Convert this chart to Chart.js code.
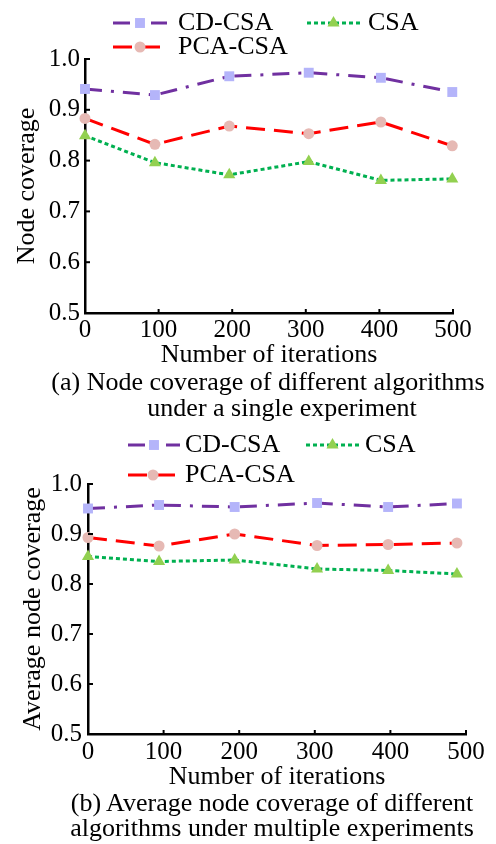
<!DOCTYPE html>
<html>
<head>
<meta charset="utf-8">
<script src="https://cdn.jsdelivr.net/npm/chart.js@4.4.0/dist/chart.umd.min.js"></script>
<style>
  body { margin: 0; background: #fff; width: 496px; height: 844px; position: relative; overflow: hidden; font-family: "Liberation Serif", serif; }
  .box { position: absolute; left: 0; width: 496px; }
  .cap { position: absolute; font-size: 26px; line-height: 26px; white-space: nowrap; transform: translateX(-50%); color: #000; }
</style>
</head>
<body>
<div class="box" style="top:0;height:368px"><canvas id="chartA"></canvas></div>
<div class="box" style="top:420px;height:370px"><canvas id="chartB"></canvas></div>
<div class="cap" style="left:268px;top:369px">(a) Node coverage of different algorithms</div>
<div class="cap" style="left:282px;top:395px">under a single experiment</div>
<div class="cap" style="left:272px;top:790px">(b) Average node coverage of different</div>
<div class="cap" style="left:272px;top:815px">algorithms under multiple experiments</div>
<script>
// values
const labels = ['CD-CSA', 'PCA-CSA', 'CSA'];
const xTicks = [0, 100, 200, 300, 400, 500];
const yTicks = [0.5, 0.6, 0.7, 0.8, 0.9, 1.0];

// (a) single experiment
const itersA = [0, 95, 196, 304, 402, 499];
const cdcsaA = [0.941, 0.929, 0.966, 0.973, 0.963, 0.935];
const pcacsaA = [0.883, 0.832, 0.868, 0.853, 0.876, 0.829];
const csaA = [0.849, 0.796, 0.772, 0.798, 0.761, 0.764];

// (b) multiple experiments
const itersB = [0, 94, 194, 303, 397, 488];
const cdcsaB = [0.951, 0.958, 0.954, 0.962, 0.954, 0.961];
const pcacsaB = [0.893, 0.876, 0.900, 0.877, 0.879, 0.882];
const csaB = [0.855, 0.845, 0.848, 0.830, 0.827, 0.820];

const FONT = '"Liberation Serif", "Times New Roman", serif';

// line + marker samples drawn next to the labels
const lineLegend = {
  id: 'lineLegend',
  afterDraw(chart, args, opts) {
    const ctx = chart.ctx;
    ctx.save();
    opts.items.forEach(it => {
      const ds = chart.data.datasets[it.ds];
      ctx.save();
      ctx.strokeStyle = ds.borderColor;
      ctx.lineWidth = ds.borderWidth;
      ctx.setLineDash(ds.borderDash || []);
      ctx.beginPath();
      ctx.moveTo(it.x, it.y);
      ctx.lineTo(it.x + it.w, it.y);
      ctx.stroke();
      ctx.setLineDash([]);
      ctx.fillStyle = ds.pointBackgroundColor;
      Chart.helpers.drawPoint(ctx, { pointStyle: ds.pointStyle, radius: ds.pointRadius, rotation: 0, borderWidth: 0 }, it.x + it.w / 2, it.y);
      ctx.restore();
      ctx.font = '26px ' + FONT;
      ctx.fillStyle = '#000';
      ctx.textBaseline = 'middle';
      ctx.fillText(ds.label, it.tx, it.y);
    });
    ctx.restore();
  }
};

// short tick marks pointing into the plot
const innerTicks = {
  id: 'innerTicks',
  afterDraw(chart) {
    const ctx = chart.ctx;
    const xs = chart.scales.x, ys = chart.scales.y;
    const area = chart.chartArea;
    ctx.save();
    ctx.strokeStyle = '#000';
    ctx.lineWidth = 2;
    xTicks.forEach(v => {
      const px = xs.getPixelForValue(v);
      ctx.beginPath();
      ctx.moveTo(px, area.bottom);
      ctx.lineTo(px, area.bottom - 4);
      ctx.stroke();
    });
    yTicks.forEach(v => {
      const py = ys.getPixelForValue(v);
      ctx.beginPath();
      ctx.moveTo(area.left, py);
      ctx.lineTo(area.left + 5, py);
      ctx.stroke();
    });
    ctx.restore();
  }
};

function series(xs, ys) {
  return xs.map((x, i) => ({ x: x, y: ys[i] }));
}

function makeChart(id, xs, values, lay) {
  const datasets = [
    { label: labels[0], data: series(xs, values[0]), borderColor: '#7030a0', borderDash: [17, 9, 3, 9],
      pointStyle: 'rect', pointRadius: 7, pointBackgroundColor: '#b4b4fa' },
    { label: labels[1], data: series(xs, values[1]), borderColor: '#ff0000', borderDash: [19, 9],
      pointStyle: 'circle', pointRadius: 5.5, pointBackgroundColor: '#e6b9b4' },
    { label: labels[2], data: series(xs, values[2]), borderColor: '#00b050', borderDash: [4, 3],
      pointStyle: 'triangle', pointRadius: 7, pointBackgroundColor: '#92d050' },
  ].map(d => Object.assign(d, { borderWidth: 3, pointBorderWidth: 0, pointHoverRadius: d.pointRadius, tension: 0, clip: false, fill: false }));

  return new Chart(document.getElementById(id), {
    type: 'line',
    data: { datasets: datasets },
    plugins: [lineLegend, innerTicks],
    options: {
      animation: false,
      responsive: true,
      maintainAspectRatio: false,
      layout: { padding: { top: lay.top, right: lay.right, bottom: 0, left: 0 } },
      plugins: {
        legend: { display: false },
        tooltip: { enabled: false },
        lineLegend: { items: lay.legend }
      },
      scales: {
        x: {
          type: 'linear', min: 0, max: 500,
          afterFit: s => { s.height = lay.xh; },
          afterBuildTicks: s => { s.ticks = xTicks.map(v => ({ value: v })); },
          grid: { display: false, drawTicks: false },
          border: { display: true, color: '#000', width: 2.5 },
          ticks: { color: '#000', padding: lay.xpad, font: { family: FONT, size: 25, lineHeight: 1.2 }, maxRotation: 0 },
          title: { display: true, text: 'Number of iterations', color: '#000', padding: { top: 0, bottom: 0 },
                   font: { family: FONT, size: 26, lineHeight: 1 } }
        },
        y: {
          type: 'linear', min: 0.5, max: 1.0,
          afterFit: s => { s.width = lay.yw; },
          afterBuildTicks: s => { s.ticks = yTicks.map(v => ({ value: v })); },
          grid: { display: false, drawTicks: false },
          border: { display: true, color: '#000', width: 2.5 },
          ticks: { color: '#000', padding: lay.ypad, font: { family: FONT, size: 25 }, callback: v => v.toFixed(1) },
          title: { display: true, text: lay.ytitle, color: '#000', padding: { top: lay.ytpad, bottom: 0 },
                   font: { family: FONT, size: 26, lineHeight: 1 } }
        }
      }
    }
  });
}

makeChart('chartA', itersA, [cdcsaA, pcacsaA, csaA], {
  top: 59, right: 43, yw: 85, xh: 55, xpad: 2, ypad: 5, ytpad: 14, ytitle: 'Node coverage',
  legend: [
    { ds: 0, x: 113, w: 54, y: 23, tx: 178 },
    { ds: 2, x: 307, w: 53, y: 23, tx: 368 },
    { ds: 1, x: 113, w: 54, y: 47, tx: 178 }
  ]
});

makeChart('chartB', itersB, [cdcsaB, pcacsaB, csaB], {
  top: 64, right: 30, yw: 88, xh: 56, xpad: 3, ypad: 6, ytpad: 20, ytitle: 'Average node coverage',
  legend: [
    { ds: 0, x: 128, w: 52, y: 25, tx: 185 },
    { ds: 2, x: 306, w: 53, y: 25, tx: 365 },
    { ds: 1, x: 128, w: 50, y: 55, tx: 185 }
  ]
});
</script>
</body>
</html>
